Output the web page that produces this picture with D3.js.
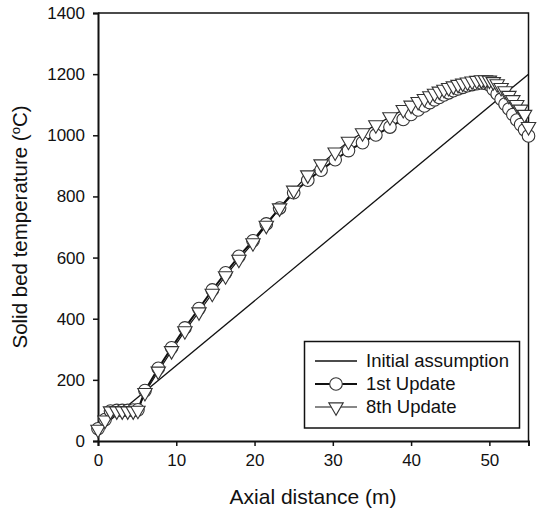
<!DOCTYPE html>
<html>
<head>
<meta charset="utf-8">
<script src="https://cdn.jsdelivr.net/npm/d3@7"></script>
<style>
  html, body { margin: 0; padding: 0; background: #fff; }
  svg text { font-family: "Liberation Sans", Arial, sans-serif; fill: #111; }
</style>
</head>
<body>
<svg id="chart" width="539" height="515"></svg>
<script>
// ---- data ----
const initialX = [0, 55];
const initialT = [35, 1200];

const updateX = [0, 0.9, 1.6, 2.4, 3.1, 3.8, 4.5, 5.1, 6.0, 7.7, 9.4, 11.1, 12.9, 14.6, 16.3, 18.0, 19.8, 21.5, 23.2, 25.0, 26.8, 28.5, 30.3, 32.0, 33.8, 35.5, 37.3, 39.0, 40.0, 40.9, 41.7, 42.4, 43.0, 43.6, 44.2, 44.8, 45.4, 46.0, 46.6, 47.2, 47.8, 48.4, 49.0, 49.5, 50.0, 50.5, 51.0, 51.5, 52.0, 52.5, 53.0, 53.5, 54.0, 54.5, 55.0];
const update1T = [40, 70, 98, 100, 100, 100, 101, 102, 165, 238, 305, 370, 433, 494, 550, 604, 655, 710, 762, 812, 853, 886, 920, 950, 976, 1001, 1027, 1052, 1068, 1083, 1096, 1107, 1116, 1124, 1132, 1139, 1146, 1152, 1157, 1162, 1166, 1169, 1171, 1170, 1165, 1150, 1135, 1118, 1102, 1086, 1068, 1050, 1035, 1018, 998];
const update8T = [38, 68, 98, 98, 98, 98, 98, 100, 158, 228, 295, 360, 422, 483, 540, 594, 648, 705, 762, 820, 870, 906, 945, 980, 1008, 1034, 1060, 1084, 1098, 1110, 1120, 1129, 1137, 1144, 1150, 1156, 1161, 1166, 1170, 1174, 1177, 1179, 1181, 1181, 1180, 1175, 1168, 1156, 1145, 1130, 1116, 1100, 1085, 1068, 1028];

const xTicks = [0, 10, 20, 30, 40, 50];
const yTicks = [0, 200, 400, 600, 800, 1000, 1200, 1400];
const seriesNames = ["Initial assumption", "1st Update", "8th Update"];
const xTitle = "Axial distance (m)";

// ---- layout ----
const svg = d3.select("#chart");
const L = 98, R = 528.5, T = 13, B = 441;
const x = d3.scaleLinear().domain([0, 55]).range([L, R]);
const y = d3.scaleLinear().domain([0, 1400]).range([B, T]);

// frame (top/right)
svg.append("path")
  .attr("d", `M${L},${T}H${R}V${B}`)
  .attr("fill", "none").attr("stroke", "#111").attr("stroke-width", 1.5);

// axes
const xAxis = d3.axisBottom(x).tickValues(xTicks).tickSize(5).tickPadding(8).tickFormat(d3.format("d"));
const yAxis = d3.axisLeft(y).tickValues(yTicks).tickSize(5).tickPadding(8).tickFormat(d3.format("d"));

const gx = svg.append("g").attr("transform", `translate(0,${B})`).call(xAxis);
const gy = svg.append("g").attr("transform", `translate(${L},0)`).call(yAxis);
[gx, gy].forEach(g => {
  g.select(".domain").attr("stroke", "#111").attr("stroke-width", 2);
  g.selectAll(".tick line").attr("stroke", "#111").attr("stroke-width", 1.5);
  g.selectAll(".tick text").style("font-size", "17px").style("font-family", "Liberation Sans, Arial, sans-serif").attr("fill", "#111");
});

// titles
svg.append("text").attr("x", 313).attr("y", 504)
  .attr("text-anchor", "middle").style("font-size", "21px").text(xTitle);

const yt = svg.append("text")
  .attr("transform", `translate(27,${(T + B) / 2}) rotate(-90)`)
  .attr("text-anchor", "middle").style("font-size", "20.5px");
yt.append("tspan").text("Solid bed temperature (");
yt.append("tspan").attr("dy", -7).style("font-size", "13px").text("o");
yt.append("tspan").attr("dy", 7).text("C)");

// initial assumption line
const line = d3.line().x(d => x(d[0])).y(d => y(d[1]));
svg.append("path").datum(d3.zip(initialX, initialT))
  .attr("d", line).attr("fill", "none").attr("stroke", "#111").attr("stroke-width", 1.3);

// updates
const d1 = d3.zip(updateX, update1T);
const d8 = d3.zip(updateX, update8T);
svg.append("path").datum(d1).attr("d", line).attr("fill", "none").attr("stroke", "#111").attr("stroke-width", 2);
svg.append("path").datum(d8).attr("d", line).attr("fill", "none").attr("stroke", "#111").attr("stroke-width", 1.2);

const circ = d3.symbol().type(d3.symbolCircle).size(125);
const tri = d3.symbol().type(d3.symbolTriangle).size(90);

svg.append("g").selectAll("path").data(d1).join("path")
  .attr("d", circ).attr("transform", d => `translate(${x(d[0])},${y(d[1])})`)
  .attr("fill", "#fff").attr("stroke", "#333").attr("stroke-width", 1.1);

svg.append("g").selectAll("path").data(d8).join("path")
  .attr("d", tri).attr("transform", d => `translate(${x(d[0])},${y(d[1])}) rotate(180)`)
  .attr("fill", "#fff").attr("stroke", "#333").attr("stroke-width", 1.1);

// legend
const lg = svg.append("g");
lg.append("rect").attr("x", 304.5).attr("y", 341.5).attr("width", 215).attr("height", 86.5)
  .attr("fill", "#fff").attr("stroke", "#111").attr("stroke-width", 1.5);
const rows = [361, 384, 407];
const lx0 = 315, lx1 = 357, tx = 366;
lg.append("line").attr("x1", lx0).attr("x2", lx1).attr("y1", rows[0]).attr("y2", rows[0]).attr("stroke", "#111").attr("stroke-width", 1.3);
lg.append("line").attr("x1", lx0).attr("x2", lx1).attr("y1", rows[1]).attr("y2", rows[1]).attr("stroke", "#111").attr("stroke-width", 2);
lg.append("path").attr("d", circ).attr("transform", `translate(${(lx0 + lx1) / 2},${rows[1]})`).attr("fill", "#fff").attr("stroke", "#333").attr("stroke-width", 1.1);
lg.append("line").attr("x1", lx0).attr("x2", lx1).attr("y1", rows[2]).attr("y2", rows[2]).attr("stroke", "#111").attr("stroke-width", 1.2);
lg.append("path").attr("d", tri).attr("transform", `translate(${(lx0 + lx1) / 2},${rows[2]}) rotate(180)`).attr("fill", "#fff").attr("stroke", "#333").attr("stroke-width", 1.1);
lg.selectAll("text.lt").data(seriesNames).join("text").attr("class", "lt")
  .attr("x", tx).attr("y", (d, i) => rows[i]).attr("dy", "0.35em")
  .style("font-size", "18.5px").text(d => d);
</script>
</body>
</html>
